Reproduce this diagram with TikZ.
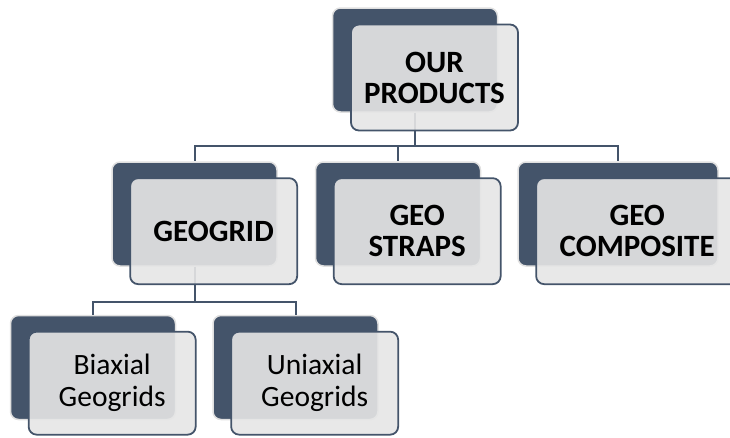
\documentclass[tikz,border=0pt]{standalone}
\usepackage{fontspec}
\setmainfont{Carlito}
\usetikzlibrary{positioning}

\definecolor{boxblue}{RGB}{68,84,106}
\definecolor{boxgray}{RGB}{230,230,230}

\begin{document}
\begin{tikzpicture}[x=1pt, y=-1pt,
    back/.style={draw=white!88!black, line width=1.5pt, fill=boxblue, rounded corners=8pt, minimum height=104pt, inner sep=0pt},
    front/.style={draw=boxblue, line width=1.8pt, fill=boxgray, fill opacity=0.9, text opacity=1, rounded corners=8pt, minimum height=106pt, inner sep=0pt, align=center},
    head/.style={font=\bfseries\fontsize{31}{31}\selectfont},
    leaf/.style={font=\fontsize{29.5}{32}\selectfont},
    link/.style={draw=boxblue, line width=2pt},
]
\useasboundingbox (0,0) rectangle (730,437);

% Back boxes
\node[back, minimum width=165pt] (prod-bk) at (415,60) {};
\foreach \n/\x/\w in {grid/194.5/165, straps/398/165, comp/618/200} {
    \node[back, minimum width=\w pt] (\n-bk) at (\x,214) {};
}
\foreach \n/\x in {biax/93, uniax/295.5} {
    \node[back, minimum width=165pt] (\n-bk) at (\x,367.5) {};
}

% Elbow connectors
\foreach \n in {grid,straps,comp} {
    \draw[link] (prod-bk.south) -- ++(0,33) -| (\n-bk.north);
}
\foreach \n in {biax,uniax} {
    \draw[link] (grid-bk.south) -- ++(0,35) -| (\n-bk.north);
}

% Front boxes with the labels
\node[front, head, minimum width=167pt] (prod) at (434.5,77.5) {OUR\\PRODUCTS};
\foreach \n/\w/\t in {grid/167/GEOGRID, straps/167/{GEO\\STRAPS}, comp/202/{GEO\\COMPOSITE}} {
    \node[front, head, minimum width=\w pt, anchor=north west] (\n) at ([shift={(18,16)}]\n-bk.north west) {\t};
}
\foreach \n/\t in {biax/{Biaxial\\Geogrids}, uniax/{Uniaxial\\Geogrids}} {
    \node[front, leaf, minimum width=167pt, minimum height=103pt, anchor=north west] (\n) at ([shift={(18,16)}]\n-bk.north west) {\t};
}

\end{tikzpicture}
\end{document}
